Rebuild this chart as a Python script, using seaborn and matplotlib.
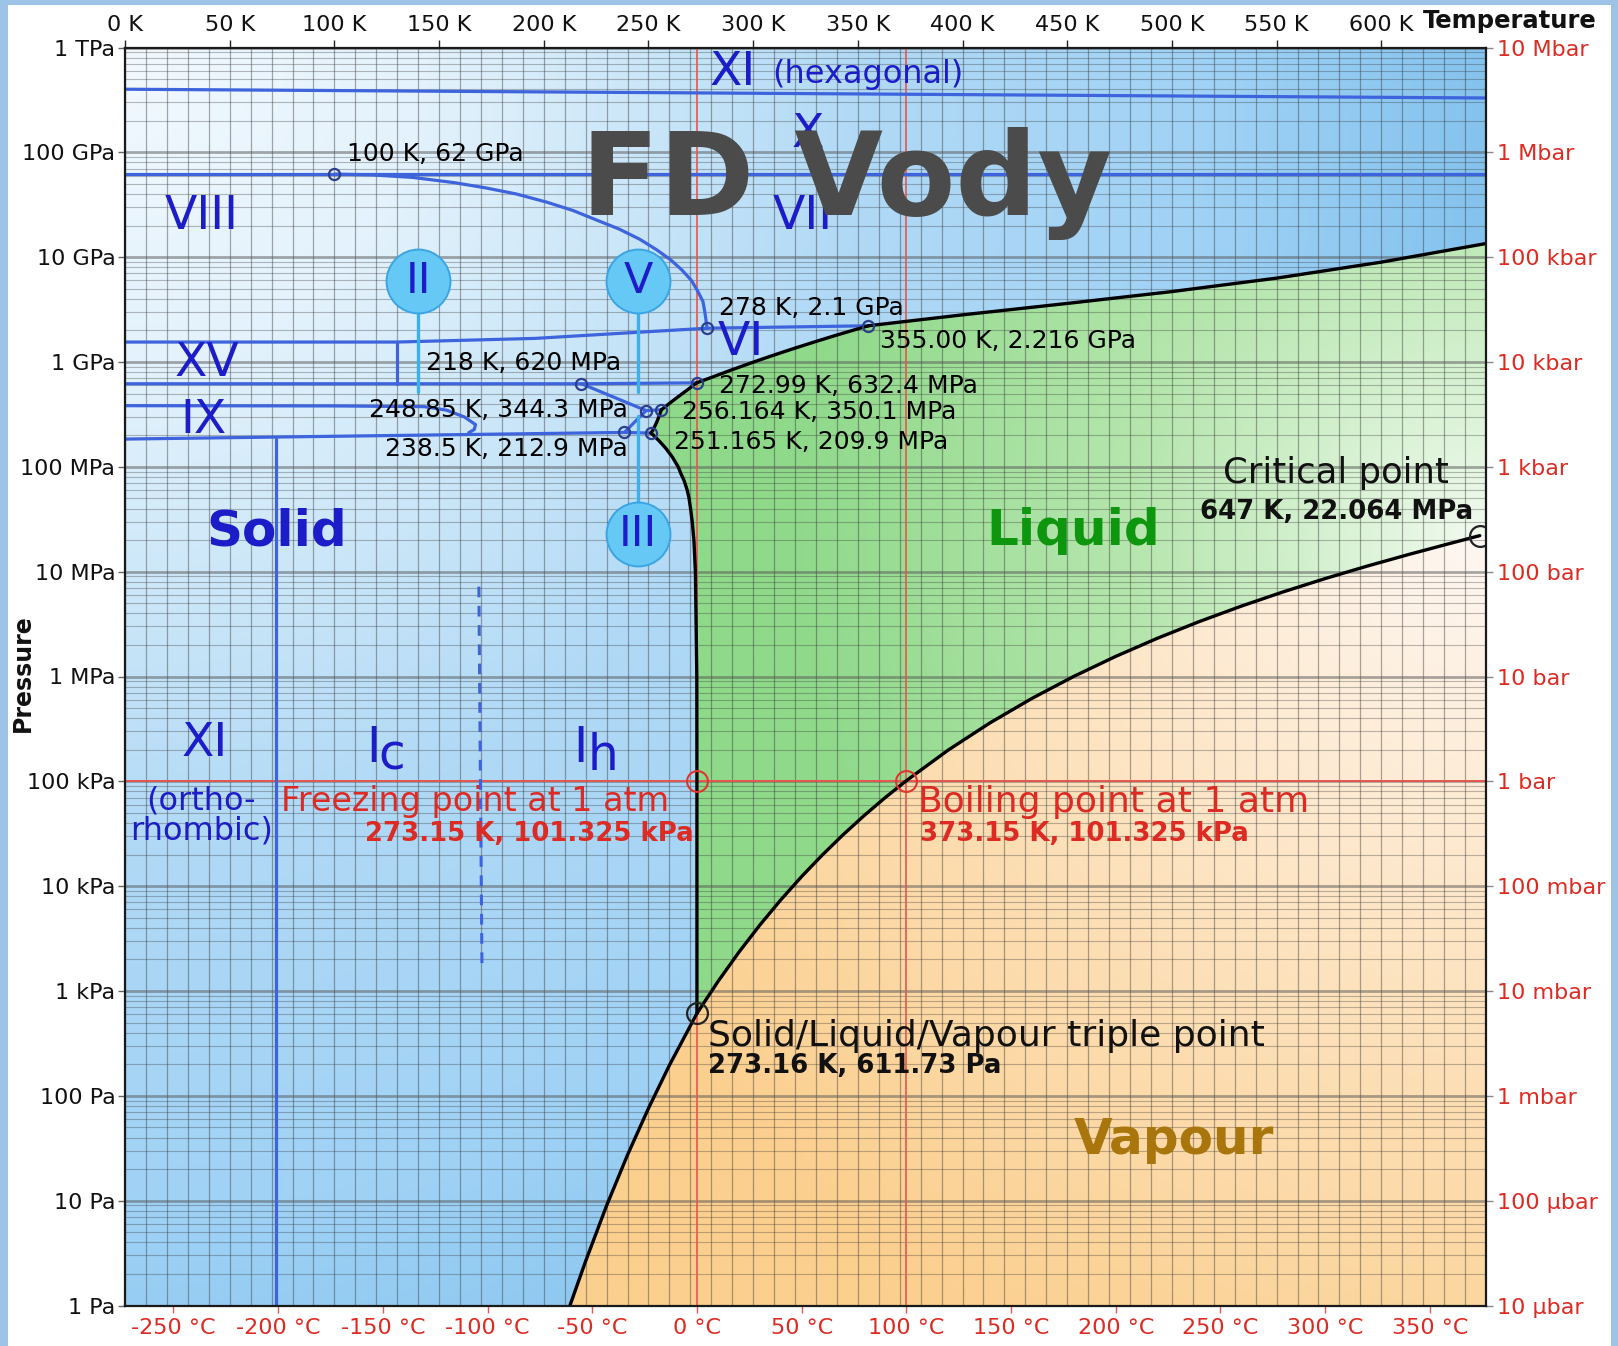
import numpy as np
import matplotlib
matplotlib.use("Agg")
import matplotlib.pyplot as plt
from matplotlib.patches import Polygon, Rectangle
from matplotlib.colors import LinearSegmentedColormap
from matplotlib.ticker import FixedLocator, NullLocator, MultipleLocator
import seaborn as sns

# ---------------- phase boundaries (T in K, P in Pa) ----------------
sublimation_T = [212.5, 220.0, 230.0, 240.0, 250.0, 260.0, 273.16]
sublimation_P = [1.0, 2.65, 8.97, 27.3, 76.0, 195.8, 611.73]

vaporization_T = [273.16, 283.15, 293.15, 303.15, 313.15, 323.15, 333.15, 343.15,
                  353.15, 363.15, 373.15, 393.15, 413.15, 433.15, 453.15, 473.15,
                  493.15, 513.15, 533.15, 553.15, 573.15, 593.15, 613.15, 633.15, 647.0]
vaporization_P = [611.73, 1228, 2339, 4247, 7384, 12352, 19946, 31201, 47414, 70182,
                  101325, 198670, 361540, 618230, 1002800, 1554900, 2319600, 3347000,
                  4692300, 6416600, 8587900, 11284000, 14601000, 18666000, 22064000]

melting_Ih_T = [273.16, 273.15, 273.09, 272.42, 271.7, 270.9, 270.1, 269.4, 268.5,
                266.9, 265.6, 264.2, 261.3, 258.3, 255.3, 252.4, 251.165]
melting_Ih_P = [611.73, 1.01325e5, 1e6, 1e7, 2e7, 3e7, 4e7, 5e7, 6e7, 7.5e7, 8.5e7,
                1e8, 1.25e8, 1.5e8, 1.75e8, 2e8, 2.099e8]
melting_III_T = [251.165, 252.0, 253.0, 254.0, 255.0, 256.164]
melting_III_P = [209.9e6, 222e6, 243e6, 268.7e6, 301.3e6, 350.1e6]
melting_V_T = [256.164, 260.0, 264.0, 268.0, 272.99]
melting_V_P = [350.1e6, 402.6e6, 463.4e6, 531e6, 632.4e6]
melting_VI_T = [272.99, 280, 290, 300, 310, 320, 330, 340, 355]
melting_VI_P = [632.4e6, 712e6, 845e6, 996e6, 1166e6, 1357e6, 1570e6, 1809e6, 2216e6]
melting_VII_T = [355, 400, 450, 500, 550, 600, 650]
melting_VII_P = [2.216e9, 2.817e9, 3.619e9, 4.696e9, 6.309e9, 8.964e9, 13.49e9]

# solid-solid boundaries
XIh_X_T, XIh_X_P = [0, 650], [4.0e11, 3.3e11]
X_VII_T, X_VII_P = [0, 650], [62e9, 62e9]
VII_VIII_T = [100, 117.8, 137.5, 157.2, 172.0, 186.8, 201.6, 213.9, 226.2, 236.1,
              245.9, 253.8, 260.7, 266.1, 270.6, 273.5, 276.0, 276.9, 278.0]
VII_VIII_P = [62e9, 61e9, 57.6e9, 51.4e9, 45.9e9, 40.1e9, 33.4e9, 27.9e9, 22.2e9, 18.5e9,
              14.8e9, 11.8e9, 9.4e9, 7.5e9, 5.97e9, 4.75e9, 3.79e9, 3.02e9, 2.1e9]
VI_VII_T, VI_VII_P = [278, 355], [2.1e9, 2.216e9]
VIII_VI_T = [0, 130, 196, 239, 278]
VIII_VI_P = [1.55e9, 1.55e9, 1.68e9, 1.89e9, 2.1e9]
XV_VI_T, XV_VI_P = [130, 130], [1.55e9, 0.62e9]
II_VI_T, II_VI_P = [0, 218, 272.99], [620e6, 620e6, 632.4e6]
II_V_T, II_V_P = [218, 248.85], [620e6, 344.3e6]
II_III_T, II_III_P = [238.5, 248.85], [212.9e6, 344.3e6]
III_V_T, III_V_P = [248.85, 256.164], [344.3e6, 350.1e6]
Ih_III_T, Ih_III_P = [238.5, 251.165], [212.9e6, 209.9e6]
Ih_II_T, Ih_II_P = [0, 238.5], [184e6, 212.9e6]
IX_T = [0, 100, 143, 153.6, 162.1, 167.4, 166.8, 164.2]
IX_P = [383e6, 381e6, 375e6, 347e6, 299e6, 253e6, 227e6, 212e6]
XI_Ih_T, XI_Ih_P = [72, 72], [1, 186e6]
Ic_Ih_T, Ic_Ih_P = [169.0, 170.5], [7.2e6, 1.6e3]

# marked points
ice_points_T = [100, 278, 355, 218, 272.99, 248.85, 256.164, 238.5, 251.165]
ice_points_P = [62e9, 2.1e9, 2.216e9, 620e6, 632.4e6, 344.3e6, 350.1e6, 212.9e6, 209.9e6]
ice_point_labels = ["100 K, 62 GPa", "278 K, 2.1 GPa", "355.00 K, 2.216 GPa",
                    "218 K, 620 MPa", "272.99 K, 632.4 MPa", "248.85 K, 344.3 MPa",
                    "256.164 K, 350.1 MPa", "238.5 K, 212.9 MPa", "251.165 K, 209.9 MPa"]
triple_T, triple_P = 273.16, 611.73
critical_T, critical_P = 647.0, 22.064e6
freezing_T, boiling_T, atm_P = 273.15, 373.15, 101325.0

# axis ticks
kelvin_ticks = list(range(0, 601, 50))
kelvin_labels = [f"{k} K" for k in kelvin_ticks]
celsius_ticks = list(range(-250, 351, 50))
celsius_labels = [f"{c} °C" for c in celsius_ticks]
pa_ticks = [10.0 ** e for e in range(0, 13)]
pa_labels = ["1 Pa", "10 Pa", "100 Pa", "1 kPa", "10 kPa", "100 kPa", "1 MPa",
             "10 MPa", "100 MPa", "1 GPa", "10 GPa", "100 GPa", "1 TPa"]
bar_ticks = [10.0 ** e for e in range(-5, 8)]
bar_labels = ["10 µbar", "100 µbar", "1 mbar", "10 mbar", "100 mbar", "1 bar",
              "10 bar", "100 bar", "1 kbar", "10 kbar", "100 kbar", "1 Mbar", "10 Mbar"]

# ---------------- style ----------------
sns.set_theme(style="white")
plt.rcParams["font.family"] = ["DejaVu Sans"]

BLUE_LINE = "#3d63dd"
PHASE_TXT = "#1c1cc9"
RED = "#dd2a22"
STEM = "#3ab0ee"

W_PX, H_PX = 1618, 1346
fig = plt.figure(figsize=(W_PX / 100, H_PX / 100), dpi=100)
fig.patch.set_facecolor("#9dc3e6")
fig.add_artist(Rectangle((8 / W_PX, 0), (1611 - 8) / W_PX, 1 - 5 / H_PX,
                         transform=fig.transFigure, facecolor="white",
                         edgecolor="none", zorder=-10))

left, right, top, bottom = 125, 1486, 47.5, 1305.5
ax = fig.add_axes([left / W_PX, 1 - bottom / H_PX, (right - left) / W_PX, (bottom - top) / H_PX])
ax.set_yscale("log")
ax.set_xlim(0, 650)
ax.set_ylim(1, 1e12)
ax.set_autoscale_on(False)

# ---------------- shaded regions ----------------
nx, ny = 650, 600
U, V = np.meshgrid(np.linspace(0, 1, nx), np.linspace(0, 1, ny))


def ramp(t, stops):
    cmap = LinearSegmentedColormap.from_list("r", stops)
    return cmap(np.clip(t, 0, 1))


solid_t = np.sqrt((1.1 * U) ** 2 + (0.95 * (1 - V)) ** 2) / 1.1
solid_img = ramp(solid_t, [(0, "#f2f9fe"), (0.22, "#e3f2fc"), (0.4, "#c8e5f8"),
                           (0.55, "#b0d9f6"), (0.8, "#a0d2f5"), (1, "#85c3ee")])
ax.imshow(solid_img, extent=(0, 1, 0, 1), transform=ax.transAxes, origin="lower",
          aspect="auto", zorder=0, interpolation="bilinear")

uc, vc = critical_T / 650, np.log10(critical_P) / 12
dist = np.sqrt(((U - uc) * 1.08) ** 2 + (V - vc) ** 2)

liq_T = (melting_Ih_T + melting_III_T[1:] + melting_V_T[1:] + melting_VI_T[1:]
         + melting_VII_T[1:] + [650, 650] + vaporization_T[::-1])
liq_P = (melting_Ih_P + melting_III_P[1:] + melting_V_P[1:] + melting_VI_P[1:]
         + melting_VII_P[1:] + [critical_P, critical_P] + vaporization_P[::-1])
liq_patch = Polygon(np.column_stack([liq_T, liq_P]), closed=True, transform=ax.transData)
liq_img = ramp(dist / 0.55, [(0, "#f0faee"), (0.5, "#b6e6ae"), (1, "#8fd98a")])
im = ax.imshow(liq_img, extent=(0, 1, 0, 1), transform=ax.transAxes, origin="lower",
               aspect="auto", zorder=0.1, interpolation="bilinear")
im.set_clip_path(liq_patch)

# vapour: triple point -> critical point -> right edge -> bottom -> sublimation curve
vap_T = vaporization_T + [650, 650, sublimation_T[0] - 2] + sublimation_T
vap_P = vaporization_P + [critical_P, 0.5, 0.5] + sublimation_P
vap_patch = Polygon(np.column_stack([vap_T, vap_P]), closed=True, transform=ax.transData)
vap_img = ramp(dist / 0.75, [(0, "#fdf7f2"), (0.5, "#fde2bd"), (1, "#fbcf8e")])
im = ax.imshow(vap_img, extent=(0, 1, 0, 1), transform=ax.transAxes, origin="lower",
               aspect="auto", zorder=0.1, interpolation="bilinear")
im.set_clip_path(vap_patch)

# ---------------- grid ----------------
ax.xaxis.set_major_locator(FixedLocator(kelvin_ticks))
ax.xaxis.set_minor_locator(MultipleLocator(10))
ax.yaxis.set_major_locator(FixedLocator(pa_ticks))
ax.yaxis.set_minor_locator(FixedLocator([m * 10.0 ** e for e in range(0, 12) for m in range(2, 10)]))
ax.set_axisbelow(True)
ax.grid(True, which="both", axis="x", color="#333333", alpha=0.42, lw=0.9)
ax.grid(True, which="major", axis="y", color="#555555", alpha=0.5, lw=2.0)
ax.grid(True, which="minor", axis="y", color="#333333", alpha=0.33, lw=0.8)
for g in ax.get_xgridlines() + ax.get_ygridlines():
    g.set_zorder(0.5)


# ---------------- curves ----------------
def curve(T, P, color, lw=2.3, z=3, ls="-"):
    sns.lineplot(x=T, y=P, ax=ax, color=color, lw=lw, linestyle=ls, sort=False,
                 estimator=None, legend=False, zorder=z)


# 1 atm and 0 / 100 degC reference lines
curve([0, 650], [atm_P, atm_P], "#e5574f", lw=1.4, z=2)
curve([freezing_T, freezing_T], [1, 1e12], "#e5574f", lw=1.2, z=2)
curve([boiling_T, boiling_T], [1, 1e12], "#e5574f", lw=1.2, z=2)

for T, P in [(XIh_X_T, XIh_X_P), (X_VII_T, X_VII_P), (VII_VIII_T, VII_VIII_P),
             (VI_VII_T, VI_VII_P), (VIII_VI_T, VIII_VI_P), (XV_VI_T, XV_VI_P),
             (II_VI_T, II_VI_P), (II_V_T, II_V_P), (II_III_T, II_III_P),
             (III_V_T, III_V_P), (Ih_III_T, Ih_III_P), (Ih_II_T, Ih_II_P),
             (IX_T, IX_P), (XI_Ih_T, XI_Ih_P)]:
    curve(T, P, BLUE_LINE, lw=2.3, z=3)
curve(Ic_Ih_T, Ic_Ih_P, BLUE_LINE, lw=2.2, z=3, ls=(0, (3.5, 2.8)))

for T, P in [(sublimation_T, sublimation_P), (vaporization_T, vaporization_P),
             (melting_Ih_T, melting_Ih_P), (melting_III_T, melting_III_P),
             (melting_V_T, melting_V_P), (melting_VI_T, melting_VI_P),
             (melting_VII_T, melting_VII_P)]:
    curve(T, P, "black", lw=2.4, z=4)

# ice II / V / III tags on stems
tag_T = [140, 245, 245]
tag_P = [5.97e9, 5.97e9, 2.31e7]
tag_text = ["II", "V", "III"]
stem_end_P = [5.2e8, 5.2e8, 3.05e8]
for T, P0, P1 in zip(tag_T, tag_P, stem_end_P):
    curve([T, T], [P0, P1], STEM, lw=2.4, z=5)
sns.scatterplot(x=tag_T, y=tag_P, ax=ax, s=46 ** 2, color="#66c9f5", edgecolor="#3aa4e4",
                linewidth=1.4, zorder=6, legend=False)
for T, P, s in zip(tag_T, tag_P, tag_text):
    ax.text(T, P, s, ha="center", va="center", fontsize=31, color=PHASE_TXT, zorder=7)

# marked points
ax.plot(ice_points_T, ice_points_P, "o", ms=8, mfc="none", mec="#2b3f8c", mew=1.6, zorder=7)
ax.plot([triple_T, critical_T], [triple_P, critical_P], "o", ms=15, mfc="none",
        mec="#222222", mew=1.6, zorder=7)
ax.plot([freezing_T, boiling_T], [atm_P, atm_P], "o", ms=15, mfc="none",
        mec="#e0352c", mew=1.5, zorder=7)


# ---------------- text ----------------
def px_T(x):
    return (x - 121) / 2.0292


def px_P(y):
    return 10 ** ((1265 - y) / 101.58)


def label(x, y, s, size, color="black", ha="left", weight="normal", va="center", z=8):
    ax.text(px_T(x), px_P(y), s, fontsize=size, color=color, ha=ha, va=va,
            fontweight=weight, zorder=z)


label_pos = [(336, 149, "left"), (697, 298, "left"), (853, 330, "left"),
             (413, 352, "left"), (697, 374, "left"), (608, 397, "right"),
             (661, 399, "left"), (608, 435, "right"), (653, 428, "left")]
for (x, y, ha), s in zip(label_pos, ice_point_labels):
    label(x, y, s, 18, ha=ha)

label(268, 515, "Solid", 36, PHASE_TXT, "center", "bold")
label(1040, 515, "Liquid", 36, "#0f960f", "center", "bold")
label(1138, 1105, "Vapour", 36, "#a8760c", "center", "bold")
label(1295, 458, "Critical point", 25.5, "#111111", "center")
label(1295, 496, f"{critical_T:.0f} K, {critical_P / 1e6:.3f} MPa", 18.7, "#111111", "center", "bold")
label(686, 1004, "Solid/Liquid/Vapour triple point", 26, "#111111")
label(686, 1033, f"{triple_T} K, {triple_P} Pa", 18.7, "#111111", weight="bold")
label(272, 777, "Freezing point at 1 atm", 24, RED)
label(672, 808, f"{freezing_T} K, {atm_P / 1e3:.3f} kPa", 18.7, RED, "right", "bold")
label(890, 777, "Boiling point at 1 atm", 26, RED)
label(891, 808, f"{boiling_T} K, {atm_P / 1e3:.3f} kPa", 18.7, RED, weight="bold")

label(710, 70, "XI", 34, PHASE_TXT, "center")
label(748, 72, "(hexagonal)", 23, PHASE_TXT)
label(783, 130, "X", 34, PHASE_TXT, "center")
label(778, 210, "VII", 34, PHASE_TXT, "center")
label(195, 210, "VIII", 34, PHASE_TXT, "center")
label(718, 332, "VI", 34, PHASE_TXT, "center")
label(200, 352, "XV", 34, PHASE_TXT, "center")
label(197, 407, "IX", 34, PHASE_TXT, "center")
label(198, 720, "XI", 34, PHASE_TXT, "center")
label(195, 776, "(ortho-", 23, PHASE_TXT, "center")
label(195, 805, "rhombic)", 23, PHASE_TXT, "center")
label(362, 738, "I", 35, PHASE_TXT, "center", va="baseline")
label(367, 746, "c", 35, PHASE_TXT, "left", va="baseline")
label(562, 738, "I", 35, PHASE_TXT, "center", va="baseline")
label(569, 746, "h", 35, PHASE_TXT, "left", va="baseline")

label(820, 208, "FD Vody", 82.5, "#4b4b4b", "center", "bold", va="baseline", z=20)

# ---------------- axes ----------------
ax.xaxis.tick_top()
ax.set_xticklabels(kelvin_labels)
ax.tick_params(axis="x", which="major", top=True, bottom=False, labeltop=True,
               labelbottom=False, length=6, width=1.0, color="#222222",
               labelsize=16, pad=3, labelcolor="#111111")
ax.tick_params(axis="both", which="minor", length=0)
ax.set_yticklabels(pa_labels)
ax.tick_params(axis="y", which="major", left=True, right=False, length=5, width=1.0,
               color="#666666", labelsize=16, pad=2, labelcolor="#111111")
for sp in ax.spines.values():
    sp.set_color("#1a1a1a")
    sp.set_linewidth(1.6)
    sp.set_zorder(9)
ax.set_xlabel("")
ax.set_ylabel("")

secx = ax.secondary_xaxis("bottom", functions=(lambda k: k - 273.15, lambda c: c + 273.15))
secx.set_xticks(celsius_ticks)
secx.set_xticklabels(celsius_labels)
secx.xaxis.set_minor_locator(NullLocator())
secx.tick_params(axis="x", length=5, width=1.0, color="#e05a52", labelsize=16,
                 labelcolor=RED, pad=4)
secx.spines["bottom"].set_visible(False)

secy = ax.secondary_yaxis("right", functions=(lambda p: p / 1e5, lambda b: b * 1e5))
secy.set_yticks(bar_ticks)
secy.set_yticklabels(bar_labels)
secy.yaxis.set_minor_locator(NullLocator())
secy.tick_params(axis="y", length=5, width=1.0, color="#888888", labelsize=16,
                 labelcolor=RED, pad=3)
secy.spines["right"].set_visible(False)

fig.text(22.7 / W_PX, 1 - 673 / H_PX, "Pressure", rotation=90, ha="center", va="center",
         fontsize=17, fontweight="bold", color="#111111")
fig.text(1510 / W_PX, 1 - 21 / H_PX, "Temperature", ha="center", va="center",
         fontsize=17.5, fontweight="bold", color="#111111")

fig.savefig("out.png", dpi=100, facecolor=fig.get_facecolor())
